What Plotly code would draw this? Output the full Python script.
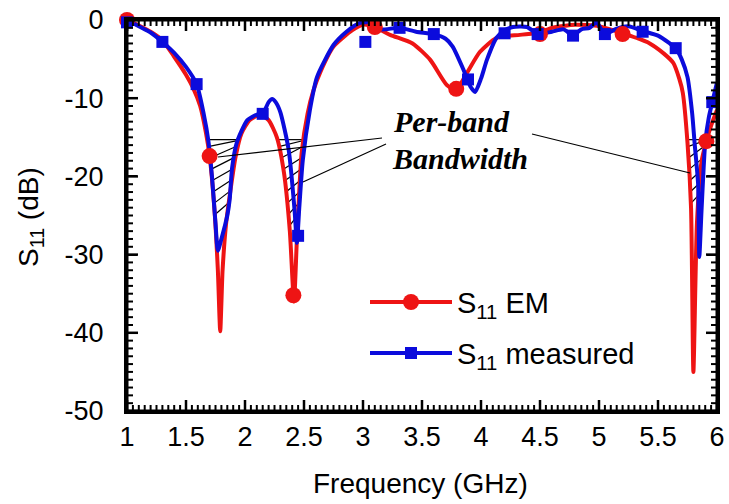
import numpy as np
import plotly.graph_objects as go

# ---- data ----
em_freq = [1.00, 1.10, 1.20, 1.30, 1.40, 1.50, 1.56, 1.62, 1.67, 1.70, 1.74, 1.77, 1.79, 1.81, 1.84,
           1.87, 1.92, 1.97, 2.04, 2.13, 2.20, 2.27, 2.33, 2.38, 2.415, 2.44, 2.48, 2.53, 2.58,
           2.64, 2.75, 2.91, 3.00, 3.10, 3.23, 3.42, 3.57, 3.71, 3.79, 3.88, 3.99, 4.13, 4.33,
           4.50, 4.60, 4.80, 5.00, 5.20, 5.32, 5.43, 5.55, 5.63, 5.68, 5.71, 5.75, 5.78, 5.80,
           5.83, 5.87, 5.91, 5.95, 6.00]
em_s11 = [0.0, -0.7, -1.5, -2.6, -4.7, -7.0, -8.7, -11.0, -14.5, -17.4, -24.0, -32.0, -39.8, -32.0, -26.0,
          -22.5, -17.5, -14.5, -12.8, -12.1, -12.8, -15.0, -19.5, -27.0, -36.0, -28.0, -17.0, -12.0, -9.0,
          -6.6, -3.4, -1.3, -0.6, -0.9, -1.9, -3.0, -5.1, -8.3, -8.9, -6.8, -4.1, -2.3, -1.9,
          -1.6, -1.0, -0.6, -0.8, -1.7, -2.3, -3.0, -4.3, -5.5, -7.5, -9.3, -15.7, -24.0, -45.0,
          -26.0, -18.0, -15.5, -13.5, -11.5]
em_mark_freq = [1.0, 1.7, 2.41, 3.1, 3.79, 4.5, 5.2, 5.91]
em_mark_s11 = [0.0, -17.4, -35.2, -0.9, -8.8, -1.8, -1.8, -15.5]

meas_freq = [1.00, 1.10, 1.20, 1.30, 1.40, 1.50, 1.59, 1.65, 1.69, 1.72, 1.75, 1.77, 1.80, 1.85, 1.87,
             1.89, 1.93, 2.02, 2.10, 2.15, 2.20, 2.23, 2.26, 2.30, 2.37, 2.42, 2.44, 2.46, 2.49,
             2.55, 2.61, 2.75, 2.86, 2.97, 3.05, 3.14, 3.31, 3.45, 3.60, 3.70, 3.76, 3.85, 3.91,
             3.95, 4.00, 4.05, 4.13, 4.20, 4.27, 4.39, 4.48, 4.60, 4.70, 4.78, 4.85, 4.92, 4.98,
             5.02, 5.05, 5.15, 5.25, 5.37, 5.50, 5.60, 5.65, 5.70, 5.75, 5.79, 5.81, 5.84, 5.85,
             5.87, 5.90, 5.93, 5.96, 6.00]
meas_s11 = [0.0, -0.8, -1.6, -2.8, -4.2, -6.0, -8.2, -12.0, -15.5, -20.0, -26.0, -29.5, -28.0, -25.0, -23.0,
            -19.0, -15.7, -12.8, -12.1, -12.0, -10.5, -10.1, -10.5, -11.8, -16.6, -24.3, -28.5, -24.0, -17.9,
            -11.5, -7.3, -3.2, -1.5, -0.4, -0.3, -1.2, -1.0, -1.5, -1.8, -2.4, -3.4, -6.3, -8.5,
            -9.2, -7.5, -5.1, -2.3, -1.3, -0.9, -0.9, -1.8, -1.5, -1.2, -2.0, -1.2, -1.0, -0.3,
            -1.2, -1.8, -1.1, -0.8, -1.4, -2.0, -3.0, -3.6, -5.0, -7.3, -12.0, -15.7, -21.0, -30.3,
            -24.0, -15.7, -12.5, -10.5, -8.0]
meas_mark_freq = [1.0, 1.3, 1.59, 2.15, 2.45, 3.02, 3.31, 3.60, 3.89, 4.20, 4.48, 4.78, 5.05, 5.37, 5.65, 5.96]
meas_mark_s11 = [-0.3, -2.8, -8.2, -12.0, -27.6, -2.8, -1.0, -1.8, -7.6, -1.7, -1.8, -2.0, -1.8, -1.5, -3.6, -10.5]

# bandwidth bands: (search range low, high, bottom of hatch)
band_level = -15.3
bands = [(1.60, 2.10, -26.0), (2.20, 2.65, -26.5), (5.65, 6.0, -24.0)]

x_ticks = [1, 1.5, 2, 2.5, 3, 3.5, 4, 4.5, 5, 5.5, 6]
x_tick_text = ["1", "1.5", "2", "2.5", "3", "3.5", "4", "4.5", "5", "5.5", "6"]
y_ticks = [0, -10, -20, -30, -40, -50]
y_tick_text = ["0", "-10", "-20", "-30", "-40", "-50"]
x_minor_step = 0.05
y_minor_step = 1

RED = "#ee1414"
BLUE = "#0b0bdc"
FONT = "Liberation Sans, Arial, sans-serif"

W0, W1, H0, H1 = 127, 717, 20, 411   # plot area in pixels

fig = go.Figure()

# hatched bandwidth regions (slanted hatch lines inside each dip, computed from the curves)
hx, hy = [], []
for lo, hi, floor in bands:
    g = np.linspace(lo, hi, 800)
    env = np.minimum(np.interp(g, em_freq, em_s11), np.interp(g, meas_freq, meas_s11))

    def edges(level):
        idx = np.where(env < level)[0]
        return g[idx[0]], g[idx[-1]]

    xl, xr = edges(band_level)
    hx += [xl, xr, None]
    hy += [band_level, band_level, None]
    step = 1.45
    rise = 1.6
    lev = band_level - 0.9
    while lev > floor:
        a, _ = edges(lev)
        top = min(lev + rise, band_level - 0.05)
        _, b = edges(top)
        hx += [a, b, None]
        hy += [lev, top, None]
        lev -= step

fig.add_trace(go.Scatter(x=hx, y=hy, mode="lines", line=dict(color="black", width=1.2),
                         showlegend=False, hoverinfo="skip"))

fig.add_trace(go.Scatter(x=em_freq, y=em_s11, mode="lines",
                         line=dict(color=RED, width=4, shape="spline", smoothing=0.6),
                         showlegend=False))
fig.add_trace(go.Scatter(x=meas_freq, y=meas_s11, mode="lines",
                         line=dict(color=BLUE, width=4, shape="spline", smoothing=0.6),
                         showlegend=False))
fig.add_trace(go.Scatter(x=em_mark_freq, y=em_mark_s11, mode="markers",
                         marker=dict(symbol="circle", size=16, color=RED),
                         cliponaxis=False, showlegend=False))
fig.add_trace(go.Scatter(x=meas_mark_freq, y=meas_mark_s11, mode="markers",
                         marker=dict(symbol="square", size=12, color=BLUE),
                         cliponaxis=False, showlegend=False))

xr_ = [x_ticks[0], x_ticks[-1]]
yr_ = [y_ticks[-1], y_ticks[0]]

# inside tick marks on all four sides (drawn as line segments at the tick values)
px_to_dx = (xr_[1] - xr_[0]) / (W1 - W0)
px_to_dy = (yr_[1] - yr_[0]) / (H1 - H0)
x_minor = [float(v) for v in np.arange(xr_[0], xr_[1] + 1e-9, x_minor_step)
           if min(abs(v - t) for t in x_ticks) > 1e-6]
y_minor = [float(v) for v in np.arange(yr_[0], yr_[1] + 1e-9, y_minor_step)
           if min(abs(v - t) for t in y_ticks) > 1e-6]
for xv, yv, L, w in [([float(t) for t in x_ticks], [float(t) for t in y_ticks], 11, 2.5),
                     (x_minor, y_minor, 6, 2.0)]:
    tx, ty = [], []
    ldy = L * px_to_dy
    ldx = L * px_to_dx
    for v in xv:
        tx += [v, v, None, v, v, None]
        ty += [yr_[0], yr_[0] + ldy, None, yr_[1], yr_[1] - ldy, None]
    for v in yv:
        tx += [xr_[0], xr_[0] + ldx, None, xr_[1], xr_[1] - ldx, None]
        ty += [v, v, None, v, v, None]
    fig.add_trace(go.Scatter(x=tx, y=ty, mode="lines", line=dict(color="black", width=w),
                             showlegend=False, hoverinfo="skip"))

tf = dict(family=FONT, size=27, color="black")
fig.update_layout(
    template="none",
    xaxis=dict(range=xr_, tickmode="array", tickvals=x_ticks, ticktext=x_tick_text,
               showline=True, linecolor="black", linewidth=3, mirror="allticks",
               ticks="inside", ticklen=10, tickwidth=2, tickcolor="black",
               showgrid=False, zeroline=False, tickfont=tf, automargin=False),
    yaxis=dict(range=yr_, tickmode="array", tickvals=y_ticks, ticktext=[t + "  " for t in y_tick_text],
               showline=True, linecolor="black", linewidth=3, mirror="allticks",
               ticks="inside", ticklen=10, tickwidth=2, tickcolor="black",
               showgrid=False, zeroline=False, tickfont=tf, automargin=False),
)

def pxx(p):
    return (p - W0) / (W1 - W0)
def pxy(p):
    return (H1 - p) / (H1 - H0)

annotations = [
    dict(text="Frequency (GHz)", x=pxx(420), y=pxy(483), xref="paper", yref="paper",
         showarrow=False, font=dict(family=FONT, size=28, color="black"), xanchor="center", yanchor="middle"),
    dict(text="S<sub>11</sub> (dB)", x=pxx(30), y=pxy(217), xref="paper", yref="paper",
         showarrow=False, textangle=-90, font=dict(family=FONT, size=28, color="black"),
         xanchor="center", yanchor="middle"),
    dict(text="<b><i>Per-band</i></b>", x=pxx(451), y=pxy(121), xref="paper", yref="paper",
         showarrow=False, font=dict(family="Liberation Serif, Times New Roman, serif", size=30, color="black"),
         xanchor="center", yanchor="middle"),
    dict(text="<b><i>Bandwidth</i></b>", x=pxx(460), y=pxy(158), xref="paper", yref="paper",
         showarrow=False, font=dict(family="Liberation Serif, Times New Roman, serif", size=30, color="black"),
         xanchor="center", yanchor="middle"),
    dict(text="S<sub>11</sub> EM", x=pxx(455), y=pxy(305), xref="paper", yref="paper",
         showarrow=False, font=dict(family=FONT, size=29, color="black"), xanchor="left", yanchor="middle"),
    dict(text="S<sub>11</sub> measured", x=pxx(455), y=pxy(356), xref="paper", yref="paper",
         showarrow=False, font=dict(family=FONT, size=29, color="black"), xanchor="left", yanchor="middle"),
]

def dx(p):
    return 1 + (p - W0) / (W1 - W0) * 5
def dy(p):
    return -(p - H0) / (H1 - H0) * 50

shapes = [dict(type="rect", xref="paper", yref="paper", x0=0, x1=1, y0=0, y1=1,
               line=dict(color="black", width=3), fillcolor="rgba(0,0,0,0)", layer="above")]
for (x0, y0, x1, y1) in [(218, 157, 382, 138), (303, 182, 386, 144), (532, 134, 690, 173)]:
    shapes.append(dict(type="line", xref="x", yref="y", x0=dx(x0), y0=dy(y0), x1=dx(x1), y1=dy(y1),
                       line=dict(color="black", width=1.2)))
# manual legend
for yy, col, kind, half in [(302, RED, "circle", 8), (353, BLUE, "rect", 6)]:
    shapes.append(dict(type="line", xref="paper", yref="paper", x0=pxx(370), x1=pxx(452),
                       y0=pxy(yy), y1=pxy(yy), line=dict(color=col, width=4)))
    shapes.append(dict(type=kind, xref="paper", yref="paper", xsizemode="pixel", ysizemode="pixel",
                       xanchor=pxx(411), yanchor=pxy(yy), x0=-half, x1=half, y0=-half, y1=half,
                       fillcolor=col, line=dict(color=col, width=0)))

fig.update_layout(width=729, height=504, margin=dict(l=W0, r=729 - W1, t=H0, b=504 - H1),
                  paper_bgcolor="white", plot_bgcolor="white", showlegend=False,
                  annotations=annotations, shapes=shapes,
                  font=dict(family=FONT, color="black"))

fig.write_html("out.html")
